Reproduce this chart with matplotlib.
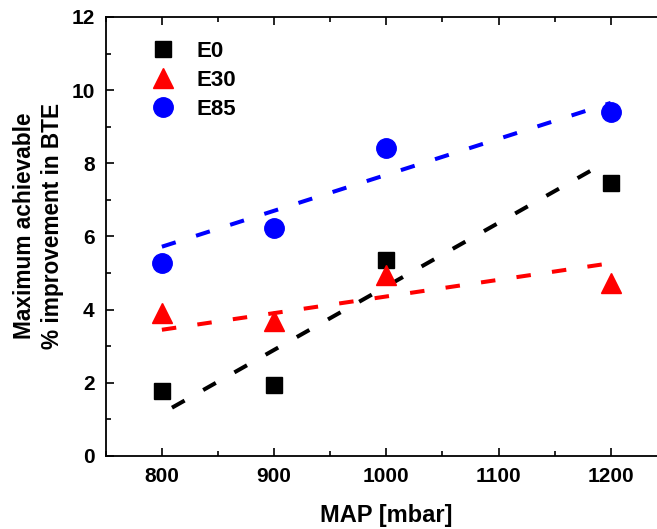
import matplotlib
matplotlib.use("Agg")
import matplotlib.pyplot as plt
from matplotlib.ticker import MultipleLocator

plt.rcParams['font.family'] = ['Liberation Sans', 'DejaVu Sans']
plt.rcParams['font.weight'] = 'bold'

# measured points
map_mbar = [800, 900, 1000, 1200]
e0 = [1.78, 1.95, 5.37, 7.47]
e30 = [3.91, 3.68, 4.96, 4.73]
e85 = [5.27, 6.24, 8.42, 9.39]

# dashed trend lines (end points)
e0_fit_x = [809, 1195]
e0_fit_y = [1.32, 8.02]
e30_fit_x = [800, 1200]
e30_fit_y = [3.45, 5.27]
e85_fit_x = [800, 1200]
e85_fit_y = [5.72, 9.65]

fig = plt.figure(figsize=(6.57, 5.29), dpi=100)
ax = fig.add_axes([0.161, 0.138, 0.854, 0.830])

dash = (0, (3.6, 5.3))
ax.plot(e0_fit_x, e0_fit_y, color='black', lw=2.9, linestyle=dash)
ax.plot(e30_fit_x, e30_fit_y, color='red', lw=2.9, linestyle=dash)
ax.plot(e85_fit_x, e85_fit_y, color='blue', lw=2.9, linestyle=dash)

ax.plot(map_mbar, e0, 's', color='black', ms=12, label='E0', zorder=3)
ax.plot(map_mbar, e30, '^', color='red', ms=15, label='E30', zorder=3)
ax.plot(map_mbar, e85, 'o', color='blue', ms=14, label='E85', zorder=3)

ax.set_xlim(750, 1250)
ax.set_ylim(0, 12)
ax.xaxis.set_major_locator(MultipleLocator(100))
ax.xaxis.set_minor_locator(MultipleLocator(50))
ax.yaxis.set_major_locator(MultipleLocator(2))
ax.yaxis.set_minor_locator(MultipleLocator(1))
ax.tick_params(which='both', direction='in', top=True, right=True, width=1.2)
ax.tick_params(which='major', length=6, labelsize=15, pad=8)
ax.tick_params(which='minor', length=3.5)
for s in ax.spines.values():
    s.set_linewidth(1.3)

ax.set_xlabel('MAP [mbar]', fontsize=17, fontweight='bold', labelpad=13)
ax.set_ylabel('Maximum achievable\n% improvement in BTE', fontsize=16.3,
              fontweight='bold', labelpad=5, linespacing=1.3, y=0.525)

ax.legend(loc='upper left', frameon=False, fontsize=16, handletextpad=0.9,
          labelspacing=0.35, borderaxespad=0.3, bbox_to_anchor=(0.05, 0.98),
          handlelength=1.2)

fig.savefig('out.png', dpi=100)
